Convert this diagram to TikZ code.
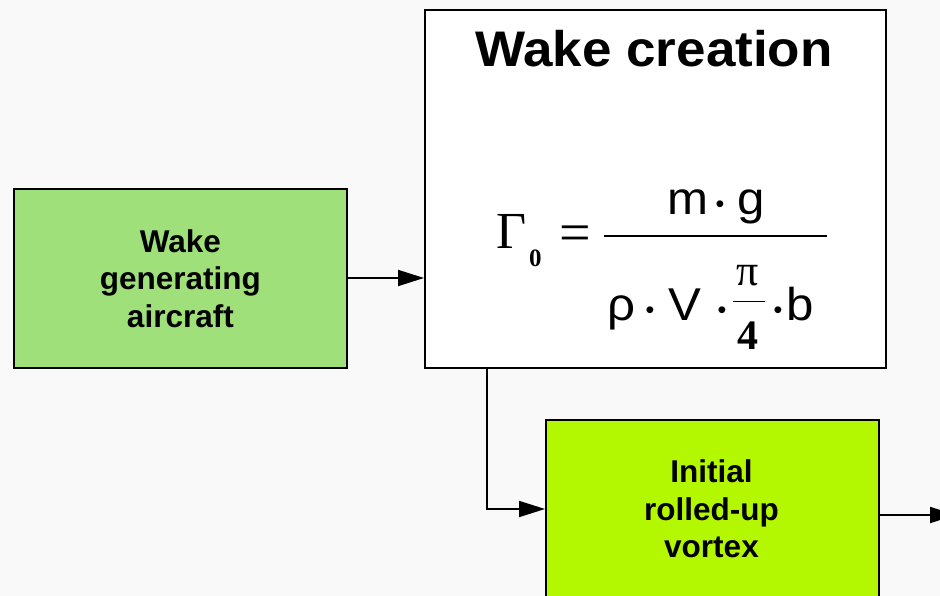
\documentclass[tikz,border=0pt]{standalone}
\usepackage{fontspec}
\setmainfont{Liberation Sans}
\newfontfamily\serif{Liberation Serif}
\usetikzlibrary{arrows.meta}
\definecolor{bg}{HTML}{F9F9F9}
\definecolor{aircraftgreen}{HTML}{9FE07B}
\definecolor{vortexlime}{HTML}{B3F800}
\tikzset{
  box/.style={draw=black, line width=1.8pt, anchor=north west, inner sep=0pt},
  boxtext/.style={font=\fontsize{31.5}{37.5}\selectfont\bfseries, align=center},
  flow/.style={line width=1.8pt, -{Triangle[length=26pt,width=16pt]}},
  formula/.style={inner sep=0pt, anchor=base west, font=\fontsize{46}{46}\selectfont},
  fdot/.style={inner sep=0pt, anchor=base, font=\fontsize{25}{25}\selectfont},
}
\newcommand{\wide}[1]{\scalebox{1.07}[1]{#1}}
\begin{document}
\begin{tikzpicture}[x=1pt,y=-1pt]
\fill[bg] (0,0) rectangle (940,596);
\useasboundingbox (0,0) rectangle (940,596);
% boxes
\node[box, fill=aircraftgreen, minimum width=333pt, minimum height=179pt] (air) at (13,188) {};
\node[boxtext] (airtext) at (air.center) {Wake\\generating\\aircraft};
\node[box, fill=white, minimum width=461pt, minimum height=358pt] (wake) at (424,9) {};
\node[box, fill=vortexlime, minimum width=333pt, minimum height=185pt] (vortex) at (545,419) {};
\node[boxtext] (vortextext) at (711.5,509) {Initial\\rolled-up\\vortex};
% title
\node[inner sep=0pt, anchor=base, font=\fontsize{50}{50}\selectfont\bfseries] (title) at (654,67) {\scalebox{1.06}[1]{Wake creation}};
% formula
\node[inner sep=0pt, anchor=base west, font=\fontsize{52}{52}\selectfont\serif] (gamma) at (496,249) {Γ};
\node[inner sep=0pt, anchor=base west, font=\fontsize{25}{25}\selectfont\serif\bfseries] (gsub) at (529,266) {0};
\node[inner sep=0pt, anchor=base, font=\fontsize{56}{56}\selectfont\serif] (eq) at (575,252) {=};
\node[formula] (mass) at (667,215) {\wide{m}};
\node[fdot] (dotn) at (720,213) {•};
\node[formula] (grav) at (737,215) {\wide{g}};
\coordinate (barL) at (604,236);
\coordinate (barR) at (827,236);
\draw[line width=1.8pt] (barL) -- (barR);
\node[formula] (rho) at (607,320) {\wide{ρ}};
\node[fdot] (dot1) at (650,318) {•};
\node[formula] (vel) at (668,320) {\wide{V}};
\node[fdot] (dot2) at (722,318) {•};
\node[inner sep=0pt, anchor=base, font=\fontsize{44}{44}\selectfont\serif] (pi) at (748,285) {π};
\coordinate (sbarL) at (733,301);
\coordinate (sbarR) at (765,301);
\draw[line width=1pt] (sbarL) -- (sbarR);
\node[inner sep=0pt, anchor=base, font=\fontsize{42}{42}\selectfont\serif\bfseries] (four) at (748,349) {4};
\node[fdot] (dot3) at (778,318) {•};
\node[formula] (span) at (786,320) {\wide{b}};
% connectors
\draw[flow] (air.east |- 0,278) -- (wake.west |- 0,278);
\coordinate (bend) at (487,509);
\draw[flow] (wake.south -| bend) -- (bend) -- (vortex.west |- bend);
\coordinate (out) at (956,515);
\draw[flow] (vortex.east |- out) -- (out);
\end{tikzpicture}
\end{document}
